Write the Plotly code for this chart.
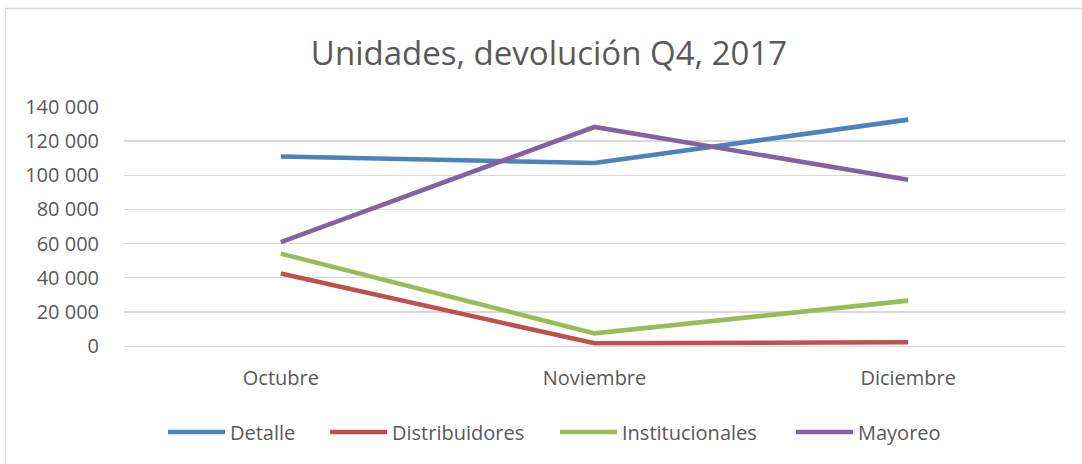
import plotly.graph_objects as go

months = ["Octubre", "Noviembre", "Diciembre"]
detalle = [111000, 107200, 132600]
distribuidores = [42400, 1600, 2200]
institucionales = [54100, 7400, 26600]
mayoreo = [60800, 128300, 97400]
y_ticks = [0, 20000, 40000, 60000, 80000, 100000, 120000, 140000]

series = [
    ("Detalle", detalle, "#4F81BD"),
    ("Distribuidores", distribuidores, "#C0504D"),
    ("Institucionales", institucionales, "#9BBB59"),
    ("Mayoreo", mayoreo, "#8064A2"),
]
legend_left = [168, 330, 560, 796]  # page px where each legend line starts

FONT = "Open Sans"
TXT = "#595959"

W, H = 1082, 464
L, R, T, B = 124, 1065, 107, 346   # plot area in page px
pw, ph = R - L, B - T

def px_x(p):
    return (p - L) / pw

def px_y(p):
    return (B - p) / ph

fig = go.Figure()
legends = {}
for i, (name, vals, color) in enumerate(series):
    lg = "legend" if i == 0 else f"legend{i + 1}"
    fig.add_trace(go.Scatter(
        x=months, y=vals, name=name, mode="lines",
        line=dict(color=color, width=4.6),
        legend=lg,
    ))
    legends[lg] = dict(
        orientation="h",
        x=px_x(legend_left[i] - 5), xanchor="left",
        y=px_y(432), yanchor="middle",
        font=dict(family=FONT, size=20, color=TXT),
        itemwidth=57,
        bgcolor="rgba(0,0,0,0)",
        borderwidth=0,
    )

fig.update_layout(
    width=W, height=H,
    margin=dict(l=L, r=W - R, t=T, b=H - B),
    paper_bgcolor="white", plot_bgcolor="white",
    separators=". ",
    font=dict(family=FONT, color=TXT, size=20),
    title=dict(
        text="Unidades, devolución Q4, 2017",
        font=dict(family=FONT, size=33, color=TXT),
        x=549 / W, xanchor="center", xref="container",
        y=1 - 53 / H, yanchor="middle", yref="container",
    ),
    showlegend=True,
    xaxis=dict(
        type="category",
        range=[-0.5, 2.5],
        showgrid=False, zeroline=False,
        showline=True, linecolor="#D9D9D9", linewidth=1.3,
        ticks="", ticklabelstandoff=14,
        tickfont=dict(family=FONT, size=20, color=TXT),
        fixedrange=True,
    ),
    yaxis=dict(
        range=[0, 140000],
        tickvals=y_ticks,
        tickformat=",d",
        showgrid=True, gridcolor="#D9D9D9", gridwidth=1.3,
        zeroline=False, showline=False,
        ticks="", ticklabelstandoff=24,
        tickfont=dict(family=FONT, size=20, color=TXT),
        fixedrange=True,
    ),
    shapes=[dict(
        type="rect", xref="paper", yref="paper",
        x0=px_x(5.5), x1=px_x(W + 20),
        y0=px_y(H + 20), y1=px_y(8.5),
        line=dict(color="#D9D9D9", width=1.3),
        fillcolor="rgba(0,0,0,0)", layer="below",
    )],
    **legends,
)

fig.write_html(
    "out.html",
    config={"displayModeBar": False, "staticPlot": True},
    post_script="document.body.style.margin='0';document.body.style.overflow='hidden';",
)
